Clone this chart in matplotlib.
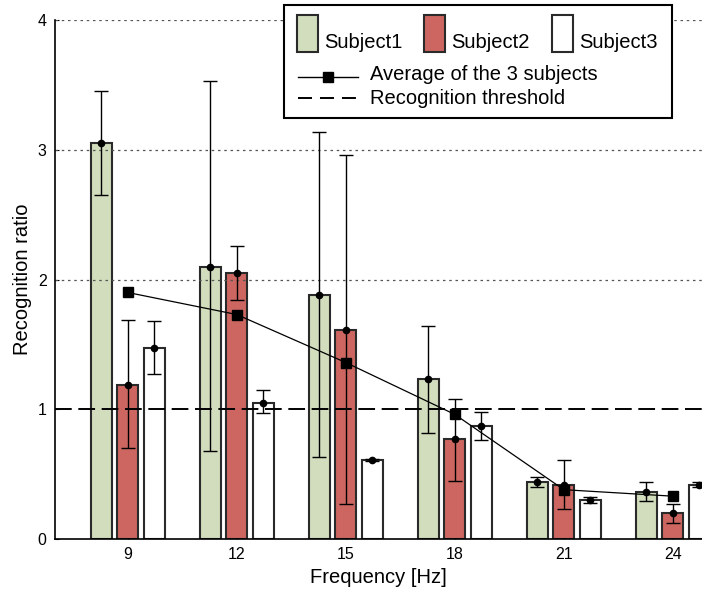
import matplotlib
matplotlib.use("Agg")
import matplotlib.pyplot as plt
from matplotlib.patches import Rectangle
from matplotlib.lines import Line2D
import numpy as np

plt.rcParams['font.family'] = ['Liberation Sans', 'DejaVu Sans']

# data
freqs = [9, 12, 15, 18, 21, 24]
subj1 = [3.05, 2.10, 1.88, 1.23, 0.44, 0.365]
subj1_hi = [3.45, 3.53, 3.14, 1.64, 0.48, 0.44]
subj1_lo = [2.65, 0.68, 0.63, 0.82, 0.40, 0.29]
subj2 = [1.19, 2.05, 1.61, 0.77, 0.42, 0.20]
subj2_hi = [1.69, 2.26, 2.96, 1.08, 0.61, 0.27]
subj2_lo = [0.70, 1.84, 0.27, 0.45, 0.23, 0.12]
subj3 = [1.47, 1.05, 0.61, 0.87, 0.30, 0.42]
subj3_hi = [1.68, 1.15, 0.615, 0.98, 0.32, 0.44]
subj3_lo = [1.27, 0.97, 0.605, 0.76, 0.28, 0.40]
average = [1.90, 1.73, 1.36, 0.96, 0.38, 0.33]
threshold = 1.0

labels = ['Subject1', 'Subject2', 'Subject3']
colors = ['#d1ddbc', '#cd6661', '#ffffff']

fig = plt.figure(figsize=(7.02, 6.04), dpi=100)
ax = fig.add_axes([55 / 702, 65 / 604, 647 / 702, 519 / 604])

x = np.array(freqs, dtype=float)
offs = [-0.73, 0.0, 0.73]
width = 0.58
series = [(subj1, subj1_lo, subj1_hi), (subj2, subj2_lo, subj2_hi), (subj3, subj3_lo, subj3_hi)]

for i, (vals, lo, hi) in enumerate(series):
    vals = np.array(vals)
    xe = x + offs[i]
    ax.bar(xe, vals, width=width, color=colors[i], edgecolor='#2a2a2a',
           linewidth=1.5, zorder=2)
    yerr = [vals - np.array(lo), np.array(hi) - vals]
    ax.errorbar(xe, vals, yerr=yerr, fmt='o', color='black', ms=4.5,
                ecolor='black', elinewidth=1, capsize=5, capthick=1, zorder=4)

ax.plot(x, average, color='black', lw=0.9, marker='s', ms=6.5, zorder=5)
ax.axhline(threshold, color='black', lw=1.4, dashes=(8.6, 3.4), zorder=3)

# dotted grid (the threshold line sits on y=1)
for yv in [2, 3, 4]:
    ax.axhline(yv, color='#555555', lw=0.9, ls=(0, (2, 3)), zorder=2.5)

ax.set_xlim(7, 24.8)
ax.set_ylim(0, 4)
ax.set_xticks(freqs)
ax.set_yticks([0, 1, 2, 3, 4])
ax.tick_params(direction='in', length=3, labelsize=11.5, pad=6)
ax.spines['top'].set_visible(False)
ax.spines['right'].set_visible(False)
for s in ['left', 'bottom']:
    ax.spines[s].set_linewidth(1.2)
ax.set_xlabel('Frequency [Hz]', fontsize=14.5, labelpad=4)
ax.set_ylabel('Recognition ratio', fontsize=14.5, labelpad=4)

# legend drawn in figure pixel coordinates (origin top-left)
W, H = 702.0, 604.0
def fx(px):
    return px / W
def fy(py):
    return 1 - py / H

fig.patches.append(Rectangle((fx(284), fy(118)), fx(672) - fx(284), fy(5) - fy(118),
                             transform=fig.transFigure, facecolor='white',
                             edgecolor='black', lw=1.5, zorder=10))
patch_x = [297, 424, 552]
for i in range(3):
    fig.patches.append(Rectangle((fx(patch_x[i]), fy(52)), 21 / W, 37 / H,
                                 transform=fig.transFigure, facecolor=colors[i],
                                 edgecolor='#2a2a2a', lw=1.5, zorder=11))
    fig.text(fx(patch_x[i] + 27), fy(43), labels[i], fontsize=14.5,
             va='center', ha='left', zorder=12)

fig.lines.append(Line2D([fx(298), fx(358)], [fy(77), fy(77)], transform=fig.transFigure,
                        color='black', lw=1, zorder=11))
fig.lines.append(Line2D([fx(328)], [fy(77)], transform=fig.transFigure, color='black',
                        marker='s', ms=6.5, zorder=12))
fig.text(fx(370), fy(75), 'Average of the 3 subjects', fontsize=14.5,
         va='center', ha='left', zorder=12)
fig.lines.append(Line2D([fx(298), fx(358)], [fy(98), fy(98)], transform=fig.transFigure,
                        color='black', lw=1.4, dashes=(7.2, 4.1), zorder=11))
fig.text(fx(370), fy(98), 'Recognition threshold', fontsize=14.5,
         va='center', ha='left', zorder=12)

fig.savefig('out.png', dpi=100)
